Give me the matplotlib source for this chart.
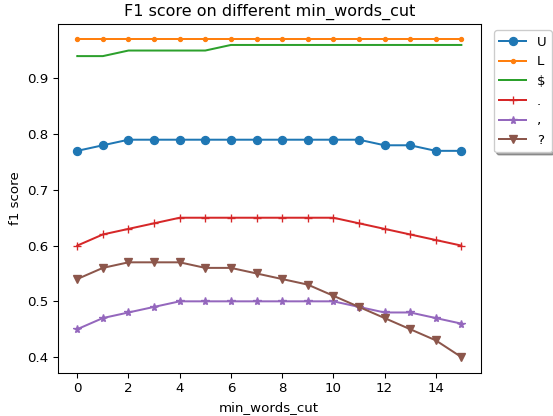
import matplotlib
matplotlib.use("Agg")
import matplotlib.pyplot as plt

x = list(range(16))
U = [0.77, 0.78, 0.79, 0.79, 0.79, 0.79, 0.79, 0.79, 0.79, 0.79, 0.79, 0.79, 0.78, 0.78, 0.77, 0.77]
L = [0.97] * 16
D = [0.94, 0.94, 0.95, 0.95, 0.95, 0.95, 0.96, 0.96, 0.96, 0.96, 0.96, 0.96, 0.96, 0.96, 0.96, 0.96]
P = [0.60, 0.62, 0.63, 0.64, 0.65, 0.65, 0.65, 0.65, 0.65, 0.65, 0.65, 0.64, 0.63, 0.62, 0.61, 0.60]
C = [0.45, 0.47, 0.48, 0.49, 0.50, 0.50, 0.50, 0.50, 0.50, 0.50, 0.50, 0.49, 0.48, 0.48, 0.47, 0.46]
Q = [0.54, 0.56, 0.57, 0.57, 0.57, 0.56, 0.56, 0.55, 0.54, 0.53, 0.51, 0.49, 0.47, 0.45, 0.43, 0.40]
labels = ["U", "L", "$", ".", ",", "?"]

DPI = 96
fig = plt.figure(figsize=(553 / DPI, 416 / DPI), dpi=DPI)
ax = fig.add_axes([0.105, 0.1035, 0.764, 0.84])
series = [U, L, D, P, C, Q]
markers = ["o", ".", ",", "+", "*", "v"]
for s, m, lab in zip(series, markers, labels):
    ax.plot(x, s, marker=m, label=lab)
ax.set_title("F1 score on different min_words_cut")
ax.set_xlabel("min_words_cut")
ax.set_ylabel("f1 score")
ax.legend(loc="upper left", bbox_to_anchor=(1.016, 1.0), shadow=True)
fig.savefig("out.png", dpi=DPI)
